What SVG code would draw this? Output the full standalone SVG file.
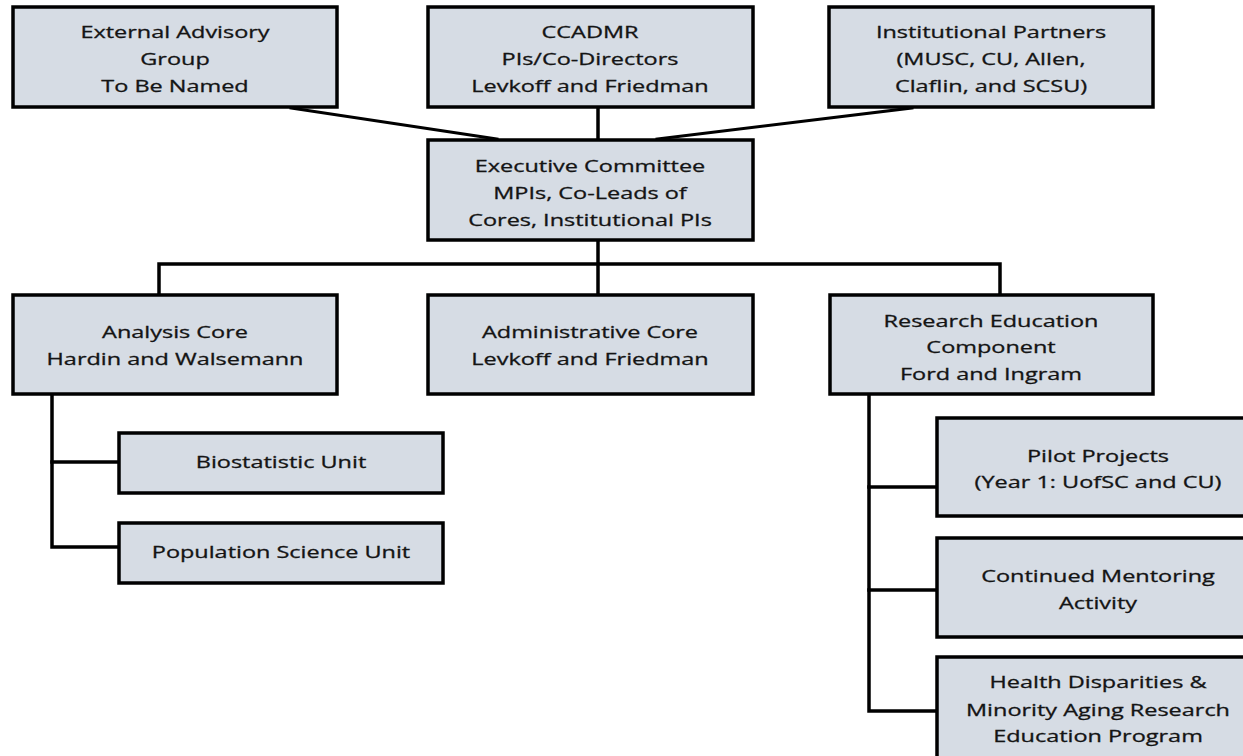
<svg xmlns="http://www.w3.org/2000/svg" width="1243" height="756" viewBox="0 0 1243 756">
<style>
.box{fill:#d6dce4;stroke:#000;stroke-width:3.5}
.t{font-family:"Open Sans","Liberation Sans",sans-serif;font-size:17px;fill:#141414;text-anchor:middle;stroke:#141414;stroke-width:0.3}
.c{stroke:#000;stroke-width:3.5;fill:none;stroke-linecap:square}
</style>
<rect width="1243" height="756" fill="#fff"/>
<g id="connectors">
<line class="c" x1="291" y1="108" x2="497" y2="139" style="stroke-width:3"/>
<line class="c" x1="912" y1="108" x2="657" y2="139" style="stroke-width:3"/>
<line class="c" x1="598" y1="107" x2="598" y2="140"/>
<line class="c" x1="598" y1="240" x2="598" y2="295"/>
<polyline class="c" points="159,295 159,264 1000,264 1000,295"/>
<polyline class="c" points="52,394 52,547 119,547"/>
<line class="c" x1="52" y1="462" x2="119" y2="462"/>
<polyline class="c" points="869,394 869,711 937,711"/>
<line class="c" x1="869" y1="487" x2="937" y2="487"/>
<line class="c" x1="869" y1="590" x2="937" y2="590"/>
</g>
<g id="external">
<rect class="box" x="13" y="7" width="324" height="100"/>
<g transform="translate(175,0) scale(1.38,1)">
<text class="t" x="0" y="38">External Advisory</text>
<text class="t" x="0" y="65">Group</text>
<text class="t" x="0" y="92">To Be Named</text>
</g>
</g>
<g id="ccadmr">
<rect class="box" x="428" y="7" width="325" height="100"/>
<g transform="translate(590,0) scale(1.38,1)">
<text class="t" x="0" y="38">CCADMR</text>
<text class="t" x="0" y="65">PIs/Co-Directors</text>
<text class="t" x="0" y="92">Levkoff and Friedman</text>
</g>
</g>
<g id="partners">
<rect class="box" x="829" y="7" width="324" height="100"/>
<g transform="translate(991,0) scale(1.38,1)">
<text class="t" x="0" y="38">Institutional Partners</text>
<text class="t" x="0" y="65">(MUSC, CU, Allen,</text>
<text class="t" x="0" y="92">Claflin, and SCSU)</text>
</g>
</g>
<g id="executive">
<rect class="box" x="428" y="140" width="325" height="100"/>
<g transform="translate(590,0) scale(1.38,1)">
<text class="t" x="0" y="172">Executive Committee</text>
<text class="t" x="0" y="199">MPIs, Co-Leads of</text>
<text class="t" x="0" y="226">Cores, Institutional PIs</text>
</g>
</g>
<g id="analysis">
<rect class="box" x="13" y="295" width="324" height="99"/>
<g transform="translate(175,0) scale(1.38,1)">
<text class="t" x="0" y="338">Analysis Core</text>
<text class="t" x="0" y="365">Hardin and Walsemann</text>
</g>
</g>
<g id="admin">
<rect class="box" x="428" y="295" width="325" height="99"/>
<g transform="translate(590,0) scale(1.38,1)">
<text class="t" x="0" y="338">Administrative Core</text>
<text class="t" x="0" y="365">Levkoff and Friedman</text>
</g>
</g>
<g id="research">
<rect class="box" x="830" y="295" width="323" height="99"/>
<g transform="translate(991,0) scale(1.38,1)">
<text class="t" x="0" y="327">Research Education</text>
<text class="t" x="0" y="353">Component</text>
<text class="t" x="0" y="380">Ford and Ingram</text>
</g>
</g>
<g id="biostat">
<rect class="box" x="119" y="433" width="324" height="60"/>
<g transform="translate(281,0) scale(1.38,1)">
<text class="t" x="0" y="468">Biostatistic Unit</text>
</g>
</g>
<g id="population">
<rect class="box" x="119" y="523" width="324" height="60"/>
<g transform="translate(281,0) scale(1.38,1)">
<text class="t" x="0" y="558">Population Science Unit</text>
</g>
</g>
<g id="pilot">
<rect class="box" x="937" y="418" width="324" height="98"/>
<g transform="translate(1098,0) scale(1.38,1)">
<text class="t" x="0" y="462">Pilot Projects</text>
<text class="t" x="0" y="488">(Year 1: UofSC and CU)</text>
</g>
</g>
<g id="mentoring">
<rect class="box" x="937" y="538" width="324" height="99"/>
<g transform="translate(1098,0) scale(1.38,1)">
<text class="t" x="0" y="582">Continued Mentoring</text>
<text class="t" x="0" y="609">Activity</text>
</g>
</g>
<g id="health">
<rect class="box" x="937" y="657" width="324" height="110"/>
<g transform="translate(1098,0) scale(1.38,1)">
<text class="t" x="0" y="688">Health Disparities &amp;</text>
<text class="t" x="0" y="716">Minority Aging Research</text>
<text class="t" x="0" y="742">Education Program</text>
</g>
</g>
</svg>
